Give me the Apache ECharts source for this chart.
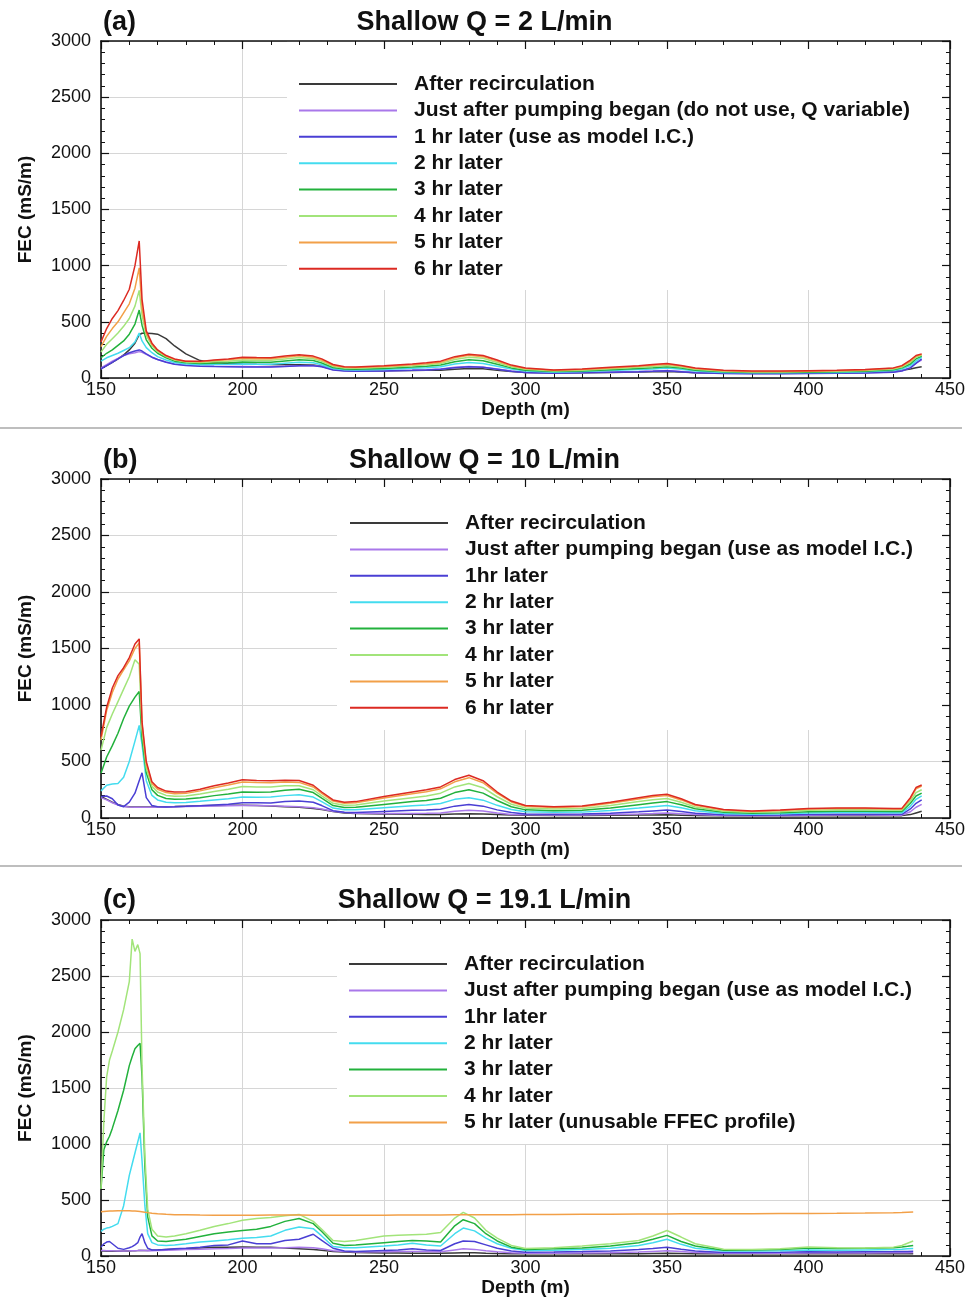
<!DOCTYPE html>
<html>
<head>
<meta charset="utf-8">
<title>Shallow FEC profiles</title>
<script src="https://cdn.jsdelivr.net/npm/echarts/dist/echarts.min.js"></script>
<style>
  html, body { margin: 0; padding: 0; background: #fff; }
  #chart { width: 968px; height: 1298px; }
</style>
</head>
<body>
<div id="chart"></div>
<script>
// Depth samples (m) for panels (a) and (b)
const depthAB = [150,152,154,156,158,160,162,163.5,164.5,166,168,170,173,176,180,185,190,195,200,205,210,215,220,225,228,232,236,240,250,260,265,270,275,280,285,290,295,300,310,320,330,340,345,350,355,360,370,380,390,400,410,420,430,433,436,438,440];
// Depth samples (m) for panel (c)
const depthC = [150,151,152,153,154,156,158,160,161,162,163,163.8,164.5,165.5,166.5,168,170,173,176,180,185,190,195,200,205,210,215,220,225,228,232,236,240,250,255,260,265,270,275,278,282,286,290,295,300,310,320,330,340,345,350,355,360,370,380,390,400,410,420,430,433,435,437];

// Axis ticks
const depthTicks = [150, 200, 250, 300, 350, 400, 450];
const fecTicks = [0, 500, 1000, 1500, 2000, 2500, 3000];

// Panel (a): Q = 2 L/min, FEC in mS/m
const aRecirc = [85,110,140,170,205,250,310,385,398,398,396,390,350,285,215,155,138,130,125,122,120,118,117,115,105,78,68,65,64,66,68,70,78,85,82,70,58,50,45,47,50,53,55,58,53,47,43,42,42,44,46,50,60,68,80,92,100];
const aJust = [90,120,150,175,200,215,225,235,228,210,185,165,142,125,115,108,105,103,102,100,100,105,110,112,102,75,65,62,65,70,74,80,95,102,96,80,62,50,44,48,54,58,62,67,58,49,42,40,40,42,44,47,54,64,92,135,160];
const aHr1 = [80,110,140,170,200,225,240,250,240,215,185,165,140,122,112,105,102,100,98,97,97,102,108,110,100,72,62,60,63,68,72,78,92,100,95,78,60,48,42,46,52,56,60,65,56,47,40,38,38,40,42,45,52,62,90,130,170];
const aHr2 = [150,180,200,220,245,270,320,400,330,270,225,190,160,138,125,118,120,122,125,123,123,132,140,135,118,84,73,71,76,86,92,100,125,138,130,105,80,62,52,57,66,75,81,88,78,63,50,46,46,48,50,55,66,80,110,150,185];
const aHr3 = [180,220,250,290,330,390,480,605,470,340,265,220,180,150,135,128,132,135,142,140,140,152,162,155,133,93,80,78,85,97,105,115,145,162,153,122,90,70,57,63,74,85,92,100,88,70,55,50,50,52,55,60,73,90,125,170,195];
const aHr4 = [230,300,350,400,460,530,640,780,560,380,290,235,190,160,143,138,145,150,160,158,158,170,182,172,148,103,88,86,95,108,117,128,165,185,175,138,100,78,63,70,82,95,103,112,98,78,60,54,54,57,60,66,80,98,140,185,205];
const aHr5 = [280,370,440,500,580,660,800,980,620,400,300,245,195,165,148,145,155,163,175,172,172,185,198,185,160,112,95,93,103,117,127,140,180,202,190,150,108,85,68,76,90,104,113,122,106,85,64,58,58,61,64,71,86,105,150,195,210];
const aHr6 = [320,440,530,600,690,790,1000,1220,700,420,310,250,200,170,150,148,160,170,185,182,180,195,208,195,170,120,100,98,110,125,135,150,190,212,200,160,115,90,72,80,95,110,120,130,112,90,68,62,62,65,68,75,90,110,160,200,215];

// Panel (b): Q = 10 L/min
const bRecirc = [190,165,140,120,105,100,98,98,98,98,98,99,100,102,105,108,110,112,112,110,106,100,95,85,75,58,45,40,36,33,32,32,35,38,36,30,26,24,22,22,24,26,27,28,25,22,20,19,19,20,21,21,21,21,30,45,60];
const bJust = [180,160,135,115,102,97,95,95,95,95,96,97,98,100,102,104,106,108,110,110,108,105,100,90,80,60,48,42,40,40,42,45,60,68,62,45,32,28,26,27,30,36,40,45,38,30,22,20,21,24,26,26,25,25,55,95,120];
const bHr1 = [190,195,170,115,100,140,220,330,400,180,110,100,98,100,103,108,115,122,135,135,132,145,150,140,110,65,50,48,58,68,70,78,105,120,105,72,48,36,33,35,42,55,63,70,58,42,28,25,27,32,34,34,33,33,80,130,160];
const bHr2 = [240,290,300,305,360,500,680,820,650,330,200,160,140,135,137,148,160,170,185,183,185,198,205,185,145,88,72,72,90,108,115,128,165,180,158,112,75,55,50,52,66,88,100,110,90,64,40,34,37,45,48,48,46,46,105,165,195];
const bHr3 = [395,540,640,750,880,990,1070,1120,700,400,250,200,172,165,168,180,198,212,230,228,230,245,255,225,175,110,92,95,120,145,155,175,225,250,220,155,100,72,65,68,88,118,132,145,118,82,50,42,46,56,60,60,58,58,130,195,220];
const bHr4 = [600,800,920,1030,1140,1250,1400,1360,780,440,280,230,200,192,195,212,235,255,278,275,275,285,285,250,195,130,112,115,150,180,195,220,275,305,268,188,122,88,80,85,110,145,162,172,140,98,60,50,56,68,72,72,70,70,150,225,250];
const bHr5 = [690,950,1110,1230,1310,1390,1500,1550,830,480,305,255,225,215,218,240,268,292,318,315,313,318,315,275,218,150,130,135,178,215,233,258,320,357,312,218,142,103,94,100,130,168,188,198,160,112,70,58,66,80,83,83,80,80,170,258,282];
const bHr6 = [720,980,1150,1260,1330,1420,1540,1585,850,500,320,270,238,230,232,255,285,310,338,332,330,335,332,290,230,160,140,145,190,230,250,275,340,378,330,230,150,110,100,107,140,180,200,210,170,120,75,62,70,85,88,88,85,85,180,270,292];

// Panel (c): Q = 19.1 L/min
const cRecirc = [45,45,44,44,44,44,45,46,47,48,49,50,50,50,51,52,54,58,62,66,72,78,80,82,80,78,72,65,58,52,42,36,32,28,27,26,25,25,28,30,29,26,24,22,20,20,20,21,22,24,26,24,22,20,20,20,21,21,21,22,22,22,22];
const cJust = [50,50,48,48,47,46,46,47,48,48,50,52,52,50,48,48,50,52,55,58,62,65,68,72,72,72,75,78,75,65,48,40,36,38,40,42,40,38,55,65,60,48,38,30,26,26,28,30,36,42,48,40,32,25,25,26,28,27,28,30,30,31,32];
const cHr1 = [80,110,125,130,110,70,60,75,85,100,120,170,200,120,70,55,55,60,65,70,80,95,100,135,110,110,140,150,195,140,70,45,40,50,55,65,55,50,110,135,130,100,70,45,35,36,40,45,58,68,80,62,45,32,32,34,38,36,38,40,42,42,44];
const cHr2 = [220,240,250,255,265,290,450,720,820,920,1020,1100,850,450,200,120,100,95,100,110,125,135,145,160,165,180,230,260,245,180,85,75,75,90,100,115,100,90,200,250,225,160,110,70,50,52,58,70,95,120,150,105,70,45,45,48,55,52,55,58,62,65,68];
const cHr3 = [600,950,1020,1070,1140,1300,1480,1700,1780,1850,1880,1900,1600,800,350,180,135,130,140,150,175,200,215,228,240,265,310,335,290,220,115,95,100,120,130,140,135,125,270,325,290,200,135,80,58,65,72,90,120,150,185,130,90,52,55,60,72,68,70,75,82,88,95];
const cHr4 = [600,1200,1600,1750,1830,2000,2200,2450,2830,2720,2780,2700,1700,900,420,240,180,170,180,200,230,265,290,320,335,345,360,372,310,240,140,130,140,180,185,190,195,210,340,390,340,230,160,95,68,75,90,110,140,180,228,170,110,62,60,65,82,75,72,80,95,115,135];
const cHr5 = [395,398,400,402,403,405,405,404,403,402,400,398,395,392,388,383,378,373,370,368,366,365,365,365,365,366,366,366,365,365,364,364,364,365,366,366,367,367,368,368,369,369,370,370,371,372,373,374,375,376,376,377,377,378,379,380,381,382,384,388,390,392,393];

// Legend entries for each panel
const namesA = ['After recirculation', 'Just after pumping began (do not use, Q variable)', '1 hr later (use as model I.C.)', '2 hr later', '3 hr later', '4 hr later', '5 hr later', '6 hr later'];
const namesB = ['After recirculation', 'Just after pumping began (use as model I.C.)', '1hr later', '2 hr later', '3 hr later', '4 hr later', '5 hr later', '6 hr later'];
const namesC = ['After recirculation', 'Just after pumping began (use as model I.C.)', '1hr later', '2 hr later', '3 hr later', '4 hr later', '5 hr later (unusable FFEC profile)'];

const tagLabels = ['(a)', '(b)', '(c)'];
const panelTitles = ['Shallow Q = 2 L/min', 'Shallow Q = 10 L/min', 'Shallow Q = 19.1 L/min'];

// Line colours, one per profile time
const lineColors = ['#3a3a3a', '#a978ea', '#4a3fd4', '#44dcef', '#22b13c', '#a2e47a', '#f2a048', '#dc2a22'];

const FONT = '"Liberation Sans", Arial, Helvetica, sans-serif';
const INK = '#111';

const panels = [
  { grid: { left: 101, top: 41, width: 850, height: 337 }, depth: depthAB,
    values: [aRecirc, aJust, aHr1, aHr2, aHr3, aHr4, aHr5, aHr6], names: namesA,
    legendPos: { left: 299, top: 73 }, mask: { x: 287, y: 41, width: 664, height: 249 }, headY: 23 },
  { grid: { left: 101, top: 479, width: 850, height: 339 }, depth: depthAB,
    values: [bRecirc, bJust, bHr1, bHr2, bHr3, bHr4, bHr5, bHr6], names: namesB,
    legendPos: { left: 350, top: 512 }, mask: { x: 337, y: 479, width: 614, height: 251 }, headY: 461 },
  { grid: { left: 101, top: 920, width: 850, height: 337 }, depth: depthC,
    values: [cRecirc, cJust, cHr1, cHr2, cHr3, cHr4, cHr5], names: namesC,
    legendPos: { left: 349, top: 953 }, mask: { x: 337, y: 920, width: 614, height: 224 }, headY: 901 }
];

const grids = [], xAxes = [], yAxes = [], series = [], legends = [], graphics = [];

panels.forEach((p, i) => {
  grids.push(Object.assign({ containLabel: false }, p.grid));

  const tickStyle = { color: INK, width: 1.2 };
  // bottom depth axis with grid lines
  xAxes.push({
    gridIndex: i, type: 'value', position: 'bottom',
    min: depthTicks[0], max: depthTicks[depthTicks.length - 1], interval: depthTicks[1] - depthTicks[0],
    z: 0,
    axisLine: { show: true, onZero: false, lineStyle: { color: INK, width: 1.6 } },
    axisTick: { show: true, inside: true, length: 8, lineStyle: tickStyle },
    minorTick: { show: true, splitNumber: 5, length: 4, lineStyle: { color: INK, width: 1 } },
    splitLine: { show: true, lineStyle: { color: '#d6d6d6', width: 1 } },
    axisLabel: { show: true, fontSize: 18, color: INK, fontFamily: FONT, margin: 3, formatter: v => String(v) },
    name: 'Depth (m)', nameLocation: 'middle', nameGap: 15,
    nameTextStyle: { fontSize: 19, fontWeight: 'bold', color: INK, fontFamily: FONT }
  });
  // top frame with inward ticks
  xAxes.push({
    gridIndex: i, type: 'value', position: 'top',
    min: depthTicks[0], max: depthTicks[depthTicks.length - 1], interval: depthTicks[1] - depthTicks[0],
    z: 3,
    axisLine: { show: true, onZero: false, lineStyle: { color: INK, width: 1.6 } },
    axisTick: { show: true, inside: true, length: 8, lineStyle: tickStyle },
    minorTick: { show: true, splitNumber: 5, length: 4, lineStyle: { color: INK, width: 1 } },
    splitLine: { show: false }, axisLabel: { show: false }
  });
  // left FEC axis with grid lines
  yAxes.push({
    gridIndex: i, type: 'value', position: 'left',
    min: fecTicks[0], max: fecTicks[fecTicks.length - 1], interval: fecTicks[1] - fecTicks[0],
    z: 0,
    axisLine: { show: true, onZero: false, lineStyle: { color: INK, width: 1.6 } },
    axisTick: { show: true, inside: true, length: 8, lineStyle: tickStyle },
    minorTick: { show: true, splitNumber: 5, length: 4, lineStyle: { color: INK, width: 1 } },
    splitLine: { show: true, lineStyle: { color: '#d6d6d6', width: 1 } },
    axisLabel: { show: true, fontSize: 18, color: INK, fontFamily: FONT, margin: 10, formatter: v => String(v) },
    name: 'FEC (mS/m)', nameLocation: 'middle', nameGap: 66, nameRotate: 90,
    nameTextStyle: { fontSize: 19, fontWeight: 'bold', color: INK, fontFamily: FONT }
  });
  // right frame with inward ticks
  yAxes.push({
    gridIndex: i, type: 'value', position: 'right',
    min: fecTicks[0], max: fecTicks[fecTicks.length - 1], interval: fecTicks[1] - fecTicks[0],
    z: 3,
    axisLine: { show: true, onZero: false, lineStyle: { color: INK, width: 1.6 } },
    axisTick: { show: true, inside: true, length: 8, lineStyle: tickStyle },
    minorTick: { show: true, splitNumber: 5, length: 4, lineStyle: { color: INK, width: 1 } },
    splitLine: { show: false }, axisLabel: { show: false }
  });

  p.values.forEach((vals, k) => {
    series.push({
      type: 'line', name: p.names[k],
      xAxisIndex: 2 * i, yAxisIndex: 2 * i,
      data: p.depth.map((d, j) => [d, vals[j]]),
      showSymbol: false, symbol: 'none',
      color: lineColors[k],
      lineStyle: { color: lineColors[k], width: 1.5 },
      z: 2, animation: false
    });
  });

  legends.push({
    orient: 'vertical', left: p.legendPos.left, top: p.legendPos.top,
    data: p.names, padding: 0, itemGap: 4.4,
    icon: 'rect', itemWidth: 98, itemHeight: 2,
    selectedMode: false,
    textStyle: { fontSize: 21, fontWeight: 'bold', color: INK, fontFamily: FONT, lineHeight: 22, padding: [0, 0, 0, 12] }
  });

  // white legend panel hiding the grid lines behind it
  graphics.push({
    type: 'rect', z: 1, silent: true,
    shape: { x: p.mask.x, y: p.mask.y, width: p.mask.width, height: p.mask.height },
    style: { fill: '#fff' }
  });
  graphics.push({
    type: 'text', z: 5, x: 103, y: p.headY,
    style: { text: tagLabels[i], font: 'bold 27px ' + FONT, fill: INK, align: 'left', verticalAlign: 'middle' }
  });
  graphics.push({
    type: 'text', z: 5, x: 484.5, y: p.headY,
    style: { text: panelTitles[i], font: 'bold 27px ' + FONT, fill: INK, align: 'center', verticalAlign: 'middle' }
  });
});

// divider rules between the panels
[428, 866].forEach(y => {
  graphics.push({
    type: 'line', z: 5, silent: true,
    shape: { x1: 0, y1: y, x2: 962, y2: y },
    style: { stroke: '#a8a8a8', lineWidth: 1.5 }
  });
});

const chart = echarts.init(document.getElementById('chart'), null, { renderer: 'canvas' });
chart.setOption({
  animation: false,
  backgroundColor: '#fff',
  textStyle: { fontFamily: FONT },
  grid: grids, xAxis: xAxes, yAxis: yAxes,
  legend: legends, series: series, graphic: graphics
});
</script>
</body>
</html>
